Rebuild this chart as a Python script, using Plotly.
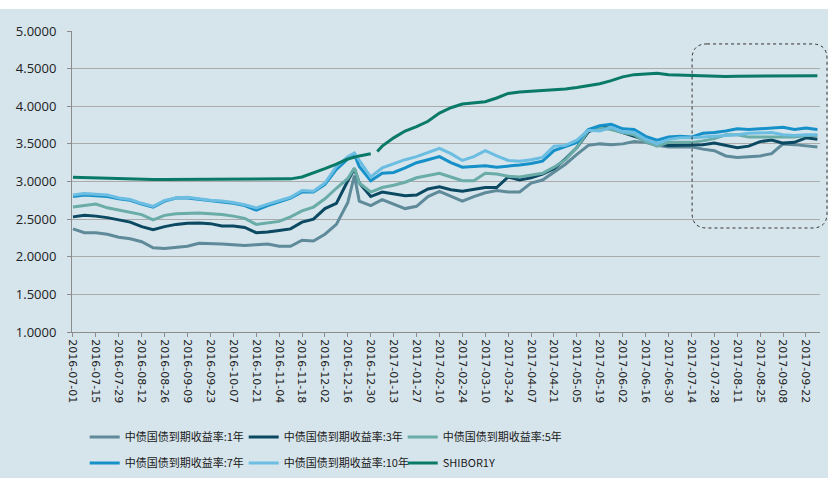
import plotly.graph_objects as go

dates = [
    "2016-07-01", "2016-07-08", "2016-07-15", "2016-07-22", "2016-07-29", "2016-08-05", "2016-08-12",
    "2016-08-19", "2016-08-26", "2016-09-02", "2016-09-09", "2016-09-16", "2016-09-23", "2016-09-30",
    "2016-10-07", "2016-10-14", "2016-10-21", "2016-10-28", "2016-11-04", "2016-11-11", "2016-11-18",
    "2016-11-25", "2016-12-02", "2016-12-09", "2016-12-16", "2016-12-20", "2016-12-23", "2016-12-30",
    "2017-01-06", "2017-01-13", "2017-01-20", "2017-01-27", "2017-02-03", "2017-02-10", "2017-02-17",
    "2017-02-24", "2017-03-03", "2017-03-10", "2017-03-17", "2017-03-24", "2017-03-31", "2017-04-07",
    "2017-04-14", "2017-04-21", "2017-04-28", "2017-05-05", "2017-05-12", "2017-05-19", "2017-05-26",
    "2017-06-02", "2017-06-09", "2017-06-16", "2017-06-23", "2017-06-30", "2017-07-07", "2017-07-14",
    "2017-07-21", "2017-07-28", "2017-08-04", "2017-08-11", "2017-08-18", "2017-08-25", "2017-09-01",
    "2017-09-08", "2017-09-15", "2017-09-22", "2017-09-29",
]

y1 = [2.37, 2.32, 2.32, 2.30, 2.26, 2.24, 2.20, 2.12, 2.11, 2.13, 2.14, 2.18, 2.18, 2.17, 2.16, 2.15,
      2.16, 2.17, 2.14, 2.14, 2.22, 2.21, 2.30,
      2.43, 2.72, 3.08, 2.74, 2.68, 2.76, 2.70, 2.64, 2.67, 2.80, 2.87, 2.80, 2.74, 2.80, 2.85, 2.88,
      2.86, 2.86, 2.98, 3.02, 3.12, 3.23, 3.36, 3.48, 3.50, 3.49, 3.50, 3.53, 3.52, 3.48, 3.46, 3.46,
      3.46, 3.43, 3.41, 3.34, 3.32, 3.33, 3.34, 3.37, 3.50, 3.49, 3.47, 3.46]

y3 = [2.53, 2.55, 2.54, 2.52, 2.49, 2.46, 2.40, 2.36, 2.40, 2.43, 2.445, 2.45, 2.44, 2.41, 2.41, 2.39,
      2.32, 2.33, 2.35, 2.37, 2.46, 2.50, 2.64,
      2.71, 3.01, 3.17, 2.98, 2.80, 2.86, 2.83, 2.81, 2.82, 2.90, 2.93, 2.89, 2.87, 2.90, 2.92, 2.92,
      3.06, 3.02, 3.05, 3.10, 3.17, 3.30, 3.45, 3.66, 3.73, 3.70, 3.65, 3.59, 3.55, 3.50, 3.48, 3.48,
      3.48, 3.49, 3.51, 3.48, 3.45, 3.47, 3.53, 3.55, 3.51, 3.52, 3.58, 3.56]

y5 = [2.66, 2.68, 2.70, 2.65, 2.62, 2.60, 2.56, 2.49, 2.55, 2.57, 2.58, 2.58, 2.57, 2.56, 2.54, 2.51,
      2.43, 2.45, 2.47, 2.53, 2.61, 2.66, 2.77,
      2.91, 3.04, 3.18, 2.98, 2.86, 2.92, 2.95, 2.99, 3.05, 3.08, 3.11, 3.06, 3.01, 3.01, 3.11, 3.10,
      3.07, 3.06, 3.09, 3.11, 3.19, 3.29, 3.45, 3.68, 3.71, 3.69, 3.65, 3.62, 3.53, 3.47, 3.52, 3.52,
      3.52, 3.54, 3.57, 3.62, 3.62, 3.59, 3.59, 3.60, 3.60, 3.59, 3.61, 3.61]

y7 = [2.80, 2.82, 2.81, 2.80, 2.77, 2.75, 2.70, 2.66, 2.74, 2.78, 2.78, 2.76, 2.74, 2.73, 2.71, 2.68,
      2.62, 2.68, 2.73, 2.78, 2.86, 2.86, 2.96,
      3.16, 3.30, 3.36, 3.20, 3.01, 3.11, 3.12, 3.18, 3.25, 3.29, 3.33, 3.25, 3.19, 3.20, 3.21, 3.19,
      3.20, 3.22, 3.24, 3.27, 3.41, 3.46, 3.52, 3.69, 3.74, 3.76, 3.70, 3.69, 3.60, 3.55, 3.59, 3.60,
      3.59, 3.64, 3.65, 3.67, 3.70, 3.69, 3.70, 3.71, 3.72, 3.69, 3.71, 3.69]

y10 = [2.82, 2.84, 2.83, 2.82, 2.78, 2.76, 2.71, 2.67, 2.75, 2.78, 2.79, 2.77, 2.75, 2.74, 2.72, 2.69,
       2.65, 2.70, 2.75, 2.79, 2.88, 2.87, 2.98,
       3.20, 3.33, 3.38, 3.28, 3.06, 3.18, 3.24, 3.29, 3.33, 3.39, 3.44, 3.37, 3.28, 3.33, 3.41, 3.34,
       3.28, 3.27, 3.29, 3.32, 3.47, 3.48, 3.55, 3.68, 3.67, 3.72, 3.66, 3.65, 3.56, 3.50, 3.56, 3.58,
       3.58, 3.59, 3.60, 3.61, 3.62, 3.64, 3.65, 3.65, 3.62, 3.61, 3.62, 3.62]

shibor_dates = [
    "2016-07-01", "2016-07-08", "2016-07-15", "2016-07-22", "2016-07-29", "2016-08-05", "2016-08-12",
    "2016-08-19", "2016-08-26", "2016-09-02", "2016-09-09", "2016-09-16", "2016-09-23", "2016-09-30",
    "2016-10-07", "2016-10-14", "2016-10-21", "2016-10-28", "2016-11-04", "2016-11-11", "2016-11-18",
    "2016-11-25", "2016-12-02", "2016-12-09", "2016-12-16", "2016-12-23", "2016-12-30", "2017-01-02",
    "2017-01-03", "2017-01-06", "2017-01-13", "2017-01-20", "2017-01-27", "2017-02-03", "2017-02-10",
    "2017-02-17", "2017-02-24", "2017-03-03", "2017-03-10", "2017-03-17", "2017-03-24", "2017-03-31",
    "2017-04-07", "2017-04-14", "2017-04-21", "2017-04-28", "2017-05-05", "2017-05-12", "2017-05-19",
    "2017-05-26", "2017-06-02", "2017-06-09", "2017-06-16", "2017-06-23", "2017-06-30", "2017-07-07",
    "2017-07-14", "2017-07-21", "2017-07-28", "2017-08-04", "2017-08-11", "2017-08-18", "2017-08-25",
    "2017-09-01", "2017-09-08", "2017-09-15", "2017-09-22", "2017-09-29",
]
shibor = [3.055, 3.05, 3.045, 3.04, 3.035, 3.03, 3.03, 3.025, 3.025, 3.025, 3.025, 3.025, 3.025, 3.025,
          3.025, 3.025, 3.025, 3.025, 3.03, 3.035, 3.06, 3.11, 3.17, 3.23, 3.30, 3.34, 3.37,
          None, 3.40,
          3.47, 3.58, 3.67, 3.73, 3.80, 3.91, 3.98, 4.03, 4.05, 4.06, 4.11, 4.17, 4.19, 4.20, 4.21,
          4.22, 4.23, 4.25, 4.27, 4.30, 4.34, 4.39, 4.42, 4.43, 4.44, 4.42, 4.415, 4.41, 4.40, 4.39,
          4.395, 4.40, 4.40, 4.405, 4.41, 4.41, 4.405, 4.405, 4.405]

tick_dates = [
    "2016-07-01", "2016-07-15", "2016-07-29", "2016-08-12", "2016-08-26", "2016-09-09", "2016-09-23",
    "2016-10-07", "2016-10-21", "2016-11-04", "2016-11-18", "2016-12-02", "2016-12-16", "2016-12-30",
    "2017-01-13", "2017-01-27", "2017-02-10", "2017-02-24", "2017-03-10", "2017-03-24", "2017-04-07",
    "2017-04-21", "2017-05-05", "2017-05-19", "2017-06-02", "2017-06-16", "2017-06-30", "2017-07-14",
    "2017-07-28", "2017-08-11", "2017-08-25", "2017-09-08", "2017-09-22",
]

names = ["中债国债到期收益率:1年", "中债国债到期收益率:3年", "中债国债到期收益率:5年",
         "中债国债到期收益率:7年", "中债国债到期收益率:10年", "SHIBOR1Y"]
colors = ["#5e8a9a", "#0b4862", "#69aca8", "#1690c8", "#6bbde2", "#0a7a68"]

BG = "#d6e4eb"
fig = go.Figure()
series = [y1, y3, y5, y7, y10]
for i, ys in enumerate(series):
    fig.add_trace(go.Scatter(
        x=dates, y=ys, mode="lines", name=names[i],
        line=dict(color=colors[i], width=3),
        legend="legend" if i < 3 else "legend2",
    ))
fig.add_trace(go.Scatter(
    x=shibor_dates, y=shibor, mode="lines", name=names[5],
    line=dict(color=colors[5], width=3), connectgaps=False, legend="legend2",
))

# background below the cropped title strip
fig.add_shape(type="rect", xref="paper", yref="paper", x0=-0.1, x1=1.02, y0=-0.5, y1=1.073,
              fillcolor=BG, line=dict(width=0), layer="below")
# dotted rounded highlight box
x0, x1, y0, y1 = 0.829, 1.0094, 0.3455, 0.957
rx, ry = 0.02, 0.05
path = (f"M{x0+rx},{y1} L{x1-rx},{y1} Q{x1},{y1} {x1},{y1-ry} L{x1},{y0+ry} Q{x1},{y0} {x1-rx},{y0} "
        f"L{x0+rx},{y0} Q{x0},{y0} {x0},{y0+ry} L{x0},{y1-ry} Q{x0},{y1} {x0+rx},{y1} Z")
fig.add_shape(type="path", xref="paper", yref="paper", path=path,
              line=dict(color="#333333", width=1, dash="dot"), fillcolor="rgba(0,0,0,0)")

legend_common = dict(orientation="h", xref="container", yref="container", x=0.1023,
                     xanchor="left", yanchor="middle", entrywidth=114, entrywidthmode="pixels",
                     font=dict(family="Noto Sans CJK SC", size=11, color="#1a1a1a"),
                     bgcolor="rgba(0,0,0,0)", traceorder="normal")
fig.update_layout(
    width=828, height=478,
    margin=dict(l=72, r=8, t=31, b=146),
    paper_bgcolor="white", plot_bgcolor=BG,
    font=dict(family="DejaVu Sans", color="#222222"),
    legend=dict(legend_common, y=1 - 437 / 478),
    legend2=dict(legend_common, y=1 - 463 / 478),
    showlegend=True,
)
fig.update_xaxes(
    type="date", range=["2016-06-30 10:00", "2017-09-30 14:00"],
    tickvals=tick_dates, ticktext=tick_dates, tickangle=90,
    tickfont=dict(family="DejaVu Sans", size=11, color="#222222"),
    showgrid=False, showline=True, linecolor="#8c8c8c", linewidth=1,
    ticks="outside", ticklen=4, tickcolor="#8c8c8c", zeroline=False,
)
fig.update_yaxes(
    range=[1, 5], dtick=0.5, tick0=1, tickformat=".4f",
    tickfont=dict(family="Open Sans", size=13, color="#222222"),
    showgrid=True, gridcolor="#ababab", gridwidth=1.3,
    showline=True, linecolor="#8c8c8c", linewidth=1,
    ticks="outside", ticklen=4, tickcolor="#8c8c8c", zeroline=False,
    ticklabelstandoff=8,
)

fig.write_html("out.html", config={"displayModeBar": False},
               post_script="document.body.style.margin='0';document.body.style.overflow='hidden';")
